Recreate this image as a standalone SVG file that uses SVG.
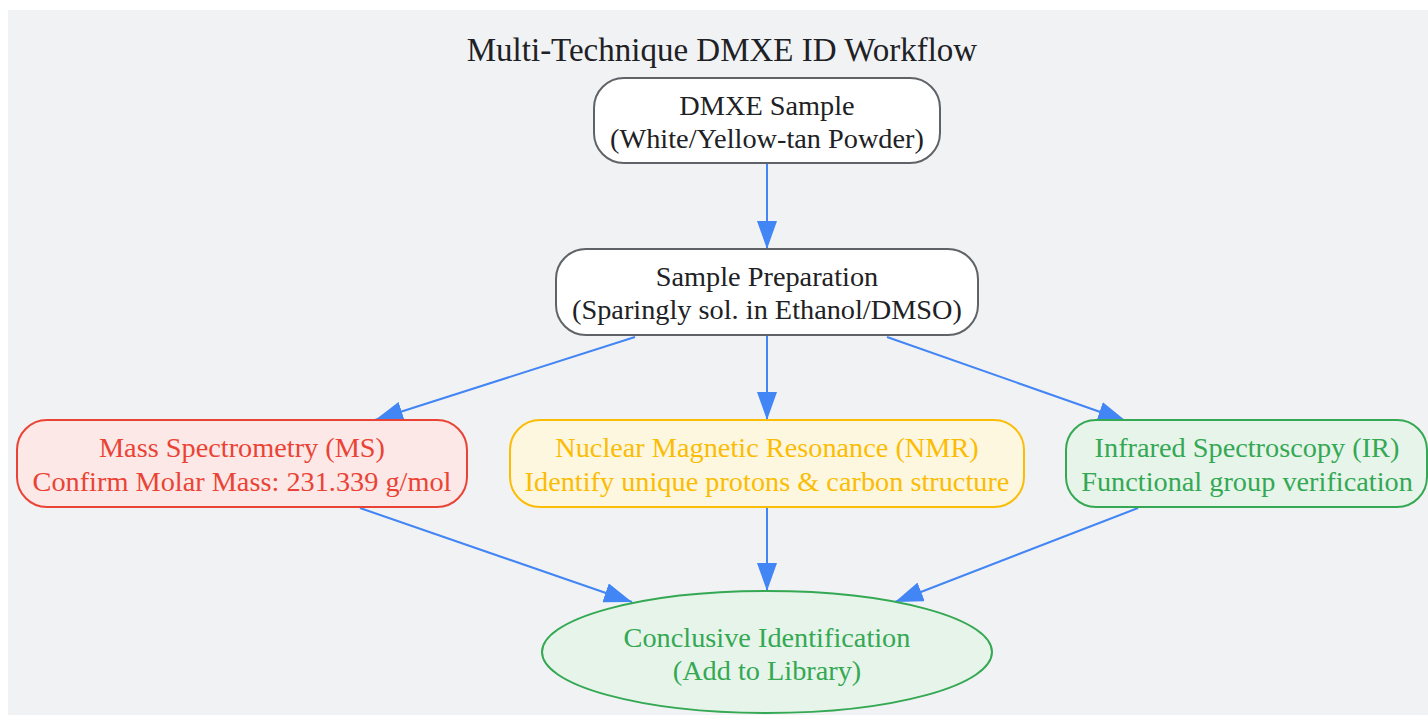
<svg xmlns="http://www.w3.org/2000/svg" width="1428" height="715" viewBox="0 0 1428 715">
<style>
text{font-family:"Liberation Serif","Times New Roman",serif;font-size:28.3px;text-anchor:middle}
.t{fill:#202124}
.node{stroke-width:2}
.plain{fill:#ffffff;stroke:#5f6368}
.ms{fill:#fce8e6;stroke:#ea4335}
.nmr{fill:#fef7e0;stroke:#fbbc04}
.ir{fill:#e6f4ea;stroke:#34a853}
.edge{stroke:#4285f4;stroke-width:2;fill:none;marker-end:url(#ah)}
</style>
<defs>
<marker id="ah" viewBox="0 0 28 20" refX="28" refY="10" markerWidth="28" markerHeight="20" markerUnits="userSpaceOnUse" orient="auto">
<path d="M0,0 L28,10 L0,20 Z" fill="#4285f4"/>
</marker>
</defs>
<rect x="0" y="0" width="1428" height="715" fill="#ffffff"/>
<rect x="8" y="10" width="1420" height="705" fill="#f1f2f4"/>
<text x="722" y="61" class="t" style="font-size:33px">Multi-Technique DMXE ID Workflow</text>
<g id="connectors">
<line class="edge" x1="767" y1="164" x2="767" y2="249"/>
<line class="edge" x1="635" y1="337" x2="375" y2="420"/>
<line class="edge" x1="767" y1="336" x2="767" y2="420"/>
<line class="edge" x1="887" y1="337" x2="1126" y2="421"/>
<line class="edge" x1="360" y1="508" x2="632" y2="602"/>
<line class="edge" x1="767" y1="508" x2="767" y2="591"/>
<line class="edge" x1="1138" y1="508" x2="895" y2="602"/>
</g>
<g id="sample">
<rect class="node plain" x="594" y="78" width="346" height="85" rx="30"/>
<text x="767" y="115" class="t">DMXE Sample</text>
<text x="767" y="148" class="t">(White/Yellow-tan Powder)</text>
</g>
<g id="prep">
<rect class="node plain" x="556" y="249" width="422" height="86" rx="30"/>
<text x="767" y="286" class="t">Sample Preparation</text>
<text x="767" y="319" class="t">(Sparingly sol. in Ethanol/DMSO)</text>
</g>
<g id="ms">
<rect class="node ms" x="17" y="420" width="450" height="87" rx="30"/>
<text x="242" y="457" fill="#ea4335">Mass Spectrometry (MS)</text>
<text x="242" y="491" fill="#ea4335">Confirm Molar Mass: 231.339 g/mol</text>
</g>
<g id="nmr">
<rect class="node nmr" x="510" y="420" width="514" height="87" rx="30"/>
<text x="767" y="457" fill="#fbbc04">Nuclear Magnetic Resonance (NMR)</text>
<text x="767" y="491" fill="#fbbc04">Identify unique protons &amp; carbon structure</text>
</g>
<g id="ir">
<rect class="node ir" x="1066" y="420" width="361" height="87" rx="30"/>
<text x="1247" y="457" fill="#34a853">Infrared Spectroscopy (IR)</text>
<text x="1247" y="491" fill="#34a853">Functional group verification</text>
</g>
<g id="conclusion">
<ellipse class="node ir" cx="767" cy="652" rx="225" ry="61"/>
<text x="767" y="647" fill="#34a853">Conclusive Identification</text>
<text x="767" y="680" fill="#34a853">(Add to Library)</text>
</g>
</svg>
